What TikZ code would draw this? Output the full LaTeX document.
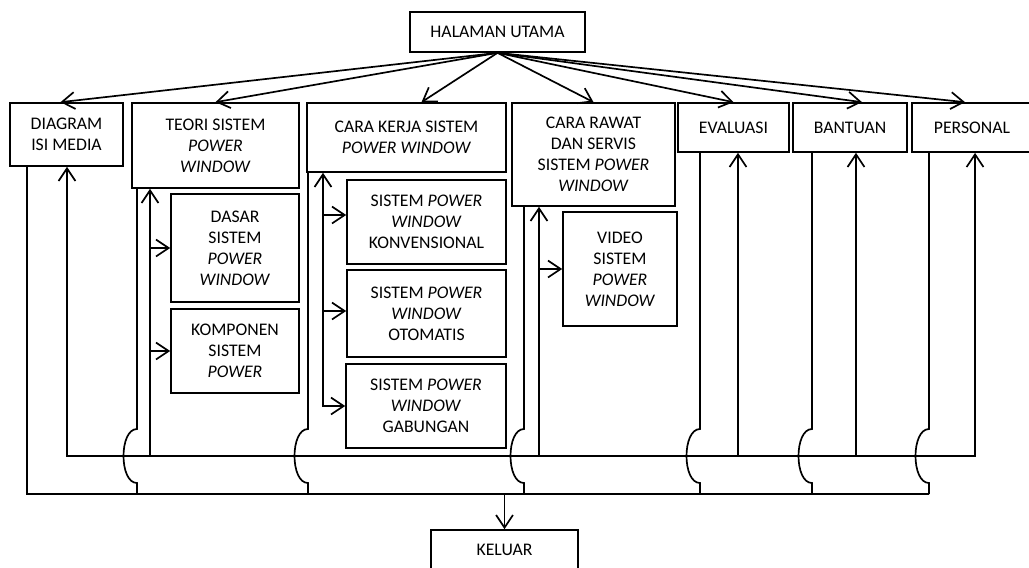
\documentclass[tikz,border=0pt]{standalone}
\usepackage{fontspec}
\setmainfont{Carlito}
\usetikzlibrary{arrows.meta, calc}

\begin{document}
\begin{tikzpicture}
            [x=0.025cm, y=-0.025cm, >={Straight Barb[length=9pt,width=12pt]}, line width=1.2pt,
             menu/.style={draw, rectangle, align=center, inner sep=2pt,
                          font=\fontsize{12.6}{14.9}\selectfont},
             ukuran/.style 2 args={minimum width=#1*0.025cm, minimum height=#2*0.025cm}]
            \useasboundingbox (0,0) rectangle (1029,567);

            % menu boxes
            \node[menu, ukuran={175}{40}] (utama) at (497.5, 32) {HALAMAN UTAMA};
            \node[menu, ukuran={113}{63}] (diagram) at (66.5, 134.5) {DIAGRAM\\ISI MEDIA};
            \node[menu, ukuran={167}{85}] (teori) at (215.5, 145.5) {TEORI SISTEM\\\textit{POWER}\\\textit{WINDOW}};
            \node[menu, ukuran={199}{69}] (kerja) at (406.5, 137.5) {CARA KERJA SISTEM\\\textit{POWER WINDOW}};
            \node[menu, ukuran={163}{103}] (rawat) at (593.5, 154.5) {CARA RAWAT\\DAN SERVIS\\SISTEM \textit{POWER}\\\textit{WINDOW}};
            \node[menu, ukuran={111}{49}] (evaluasi) at (733.5, 127.5) {EVALUASI};
            \node[menu, ukuran={114}{49}] (bantuan) at (850, 127.5) {BANTUAN};
            \node[menu, ukuran={120}{49}] (personal) at (972, 127.5) {PERSONAL};

            % sub menus
            \node[menu, ukuran={128}{108}] (dasar) at (235, 248) {DASAR\\SISTEM\\\textit{POWER}\\\textit{WINDOW}};
            \node[menu, ukuran={128}{84}] (komponen) at (235, 351) {KOMPONEN\\SISTEM\\\textit{POWER}};
            \node[menu, ukuran={159}{84}] (konv) at (426.5, 222) {SISTEM \textit{POWER}\\\textit{WINDOW}\\KONVENSIONAL};
            \node[menu, ukuran={159}{87}] (otomatis) at (426.5, 313.5) {SISTEM \textit{POWER}\\\textit{WINDOW}\\OTOMATIS};
            \node[menu, ukuran={160}{84}] (gabungan) at (426, 406) {SISTEM \textit{POWER}\\\textit{WINDOW}\\GABUNGAN};
            \node[menu, ukuran={114}{114}] (video) at (620, 269) {VIDEO\\SISTEM\\\textit{POWER}\\\textit{WINDOW}};
            \node[menu, ukuran={147}{40}] (keluar) at (504.5, 550) {KELUAR};

            % from main page to every menu
            \path [->] (utama.south) edge ($(diagram.north)+(-6,0)$);
            \path [->] (utama.south) edge (teori.north);
            \path [->] (utama.south) edge ($(kerja.north)+(15,0)$);
            \path [->] (utama.south) edge (rawat.north);
            \path [->] (utama.south) edge (evaluasi.north);
            \path [->] (utama.south) edge ($(bantuan.north)+(12,0)$);
            \path [->] (utama.south) edge ($(personal.north)+(-7,0)$);

            % bus ends
            \coordinate (ataskiri) at (67, 456);
            \coordinate (ataskanan) at (975, 456);
            \coordinate (bawahkiri) at (27, 494);
            \coordinate (bawahkanan) at (929, 494);

            % back to the menus
            \draw [<->] (diagram.south -| ataskiri) |- (ataskanan) -- (personal.south -| ataskanan);
            \foreach \n/\x in {teori/150, rawat/539, evaluasi/738, bantuan/856} {
                \coordinate (r) at (\x, 456);
                \draw [->] (r) -- (\n.south -| r);
            }
            \coordinate (r2) at (150, 456);
            \coordinate (r3) at (323, 406);
            \coordinate (r4) at (539, 456);
            \coordinate (kv) at ($(konv.west)+(0,-7)$);
            \coordinate (ot) at ($(otomatis.west)+(0,-2.5)$);
            \path [->] (dasar.west -| r2) edge (dasar.west);
            \path [->] (komponen.west -| r2) edge (komponen.west);
            \draw [<->] (gabungan.west) -| (kerja.south -| r3);
            \path [->] (kv -| r3) edge (kv);
            \path [->] (ot -| r3) edge (ot);
            \path [->] (video.west -| r4) edge (video.west);

            % exits down to keluar, jumping over the upper bus
            \draw (diagram.south -| bawahkiri) -- (bawahkiri) -- (bawahkanan);
            \coordinate (k2) at (137, 494);
            \coordinate (k3) at (308, 494);
            \coordinate (k4) at (524, 494);
            \coordinate (k5) at (700, 494);
            \coordinate (k6) at (812, 494);
            \foreach \n/\k in {teori/k2, kerja/k3, rawat/k4, evaluasi/k5, bantuan/k6, personal/bawahkanan} {
                \draw (\n.south -| \k) -- ($(\k)+(0,-65)$) .. controls +(-18,0) and +(-18,0) .. ($(\k)+(0,-11)$) -- (\k);
            }
            \path [->] (keluar.north |- bawahkiri) edge (keluar.north);
        \end{tikzpicture}
\end{document}
